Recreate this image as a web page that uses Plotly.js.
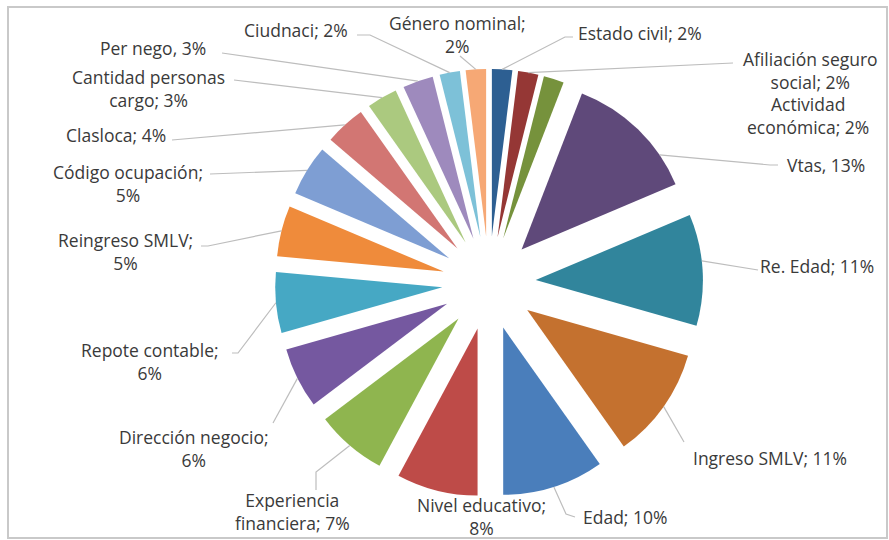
<!DOCTYPE html>
<html>
<head>
<meta charset="utf-8">
<script src="https://cdn.plot.ly/plotly-3.0.1.min.js"></script>
<style>
  html, body { margin: 0; padding: 0; background: #ffffff; }
  #chart { width: 889px; height: 540px; }
</style>
</head>
<body>
<div id="chart"></div>
<script>
// ---- data (clockwise from 12 o'clock) ----
var categories = ["Estado civil", "Afiliación seguro social", "Actividad económica", "Vtas", "Re. Edad",
  "Ingreso SMLV", "Edad", "Nivel educativo", "Experiencia financiera", "Dirección negocio",
  "Repote contable", "Reingreso SMLV", "Código ocupación", "Clasloca", "Cantidad personas cargo",
  "Per nego", "Ciudnaci", "Género nominal"];
var percents = [2, 2, 2, 13, 11, 11, 10, 8, 7, 6, 6, 5, 5, 4, 3, 3, 2, 2];
var labelTexts = ["Estado civil; 2%", "Afiliación seguro<br>social; 2%", "Actividad<br>económica; 2%",
  "Vtas, 13%", "Re. Edad; 11%", "Ingreso SMLV; 11%", "Edad; 10%", "Nivel educativo;<br>8%",
  "Experiencia<br>financiera; 7%", "Dirección negocio;<br>6%", "Repote contable;<br>6%",
  "Reingreso SMLV;<br>5%", "Código ocupación;<br>5%", "Clasloca; 4%", "Cantidad personas<br>cargo; 3%",
  "Per nego, 3%", "Ciudnaci; 2%", "Género nominal;<br>2%"];
var colors = ["#2D5F92", "#953735", "#76923C", "#5F497A", "#31859C", "#C4712F", "#4A7EBB", "#BE4B48",
  "#8FB54F", "#7558A0", "#46A8C4", "#EF8B3B", "#7E9ED3", "#D27673", "#ABC97F", "#9E8ABD",
  "#7DC1D8", "#F6A875"];

// ---- layout constants (pixels) ----
var W = 889, H = 540;
var CX = 489, CY = 283, OUTER = 214, PULL = 0.28;
var labelPos = [
  {x: 640, y: 33, lead: [[573, 37], [565, 37]]},
  {x: 810, y: 70, lead: [[733, 63]]},
  {x: 808, y: 116, lead: null},
  {x: 826, y: 165, lead: [[778, 165], [770, 165]], f: 0.75},
  {x: 817, y: 266, lead: [[758, 270]], f: 0.42},
  {x: 770, y: 458, lead: [[684, 442]]},
  {x: 625, y: 517, lead: [[575, 517], [566, 514]]},
  {x: 482, y: 516, lead: null},
  {x: 292, y: 511, lead: [[316, 490], [316, 472]]},
  {x: 194, y: 448, lead: [[273, 423]]},
  {x: 150, y: 361, lead: [[232, 353], [238, 353]]},
  {x: 125, y: 251, lead: [[201, 246], [208, 246]]},
  {x: 128, y: 183, lead: [[210, 174]]},
  {x: 116, y: 135, lead: [[172, 140]]},
  {x: 148, y: 88, lead: [[234, 80]]},
  {x: 153, y: 48, lead: [[222, 53]]},
  {x: 296, y: 30, lead: [[357, 35], [370, 35]]},
  {x: 457, y: 34, lead: [[460, 56]]}
];

function px2x(p) { return p / W; }
function px2y(p) { return 1 - p / H; }

var pulls = percents.map(function () { return PULL; });

var trace = {
  type: "pie",
  labels: categories,
  values: percents,
  sort: false,
  direction: "clockwise",
  rotation: 0,
  pull: pulls,
  textinfo: "none",
  hoverinfo: "label+value",
  marker: { colors: colors, line: { width: 0 } },
  domain: { x: [px2x(CX - OUTER), px2x(CX + OUTER)], y: [px2y(CY + OUTER), px2y(CY - OUTER)] },
  showlegend: false
};

var total = percents.reduce(function (a, b) { return a + b; }, 0);
var rIn = OUTER / (1 + PULL), dPull = rIn * PULL;
var shapes = [], annotations = [];
var cum = 0;
percents.forEach(function (v, i) {
  var start = cum / total * 2 * Math.PI;
  var end = (cum + v) / total * 2 * Math.PI;
  cum += v;
  var mid = (start + end) / 2;
  var lp = labelPos[i];
  var f = lp.f !== undefined ? lp.f : 0.5;
  var a = start + (end - start) * f;
  var ax = CX + dPull * Math.sin(mid) + rIn * Math.sin(a);
  var ay = CY - dPull * Math.cos(mid) - rIn * Math.cos(a);
  annotations.push({
    xref: "paper", yref: "paper", x: px2x(lp.x), y: px2y(lp.y),
    xanchor: "center", yanchor: "middle", showarrow: false, align: "center",
    text: labelTexts[i],
    font: { family: "Open Sans, sans-serif", size: 17.5, color: "#3a3a3a" }
  });
  if (lp.lead) {
    var pts = lp.lead.concat([[ax, ay]]);
    var path = pts.map(function (p, k) {
      return (k === 0 ? "M " : "L ") + px2x(p[0]).toFixed(5) + "," + px2y(p[1]).toFixed(5);
    }).join(" ");
    shapes.push({ type: "path", xref: "paper", yref: "paper", path: path,
      line: { color: "#bdbdbd", width: 1.2 } });
  }
});

shapes.push({ type: "rect", xref: "paper", yref: "paper",
  x0: px2x(8), x1: px2x(887), y0: px2y(538), y1: px2y(7),
  line: { color: "#c9c9c9", width: 2 }, layer: "below" });

var layout = {
  width: W, height: H,
  margin: { l: 0, r: 0, t: 0, b: 0 },
  paper_bgcolor: "#ffffff",
  plot_bgcolor: "#ffffff",
  showlegend: false,
  shapes: shapes,
  annotations: annotations
};

Plotly.newPlot("chart", [trace], layout, { displayModeBar: false, staticPlot: true });
</script>
</body>
</html>
